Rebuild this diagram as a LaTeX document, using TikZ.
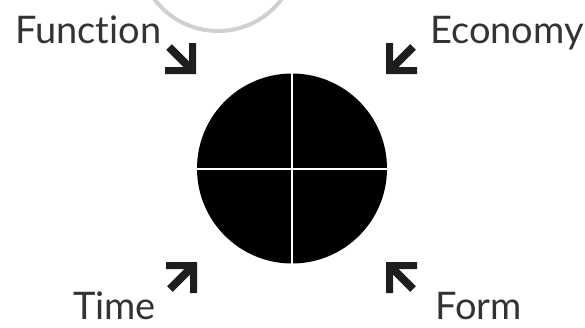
\documentclass[tikz,border=0pt]{standalone}
\usepackage{fontspec}
\setmainfont{Lato}[Ligatures=NoCommon]
\definecolor{arrowgray}{HTML}{1E1E1E}
\definecolor{textgray}{HTML}{333333}
\definecolor{ringgray}{HTML}{D0D0D0}
\begin{document}
\begin{tikzpicture}[x=1pt,y=-1pt,
  label/.style={anchor=base west, inner sep=0pt, text depth=0pt, text=textgray, font=\fontsize{38}{40}\selectfont},
  cornerarrow/.pic={
    \fill[arrowgray] (0,0) -- (-31,0) -- (-31,-7) -- (-7,-7) -- (-7,-31) -- (0,-31) -- cycle;
    \draw[arrowgray, line width=8pt] (-27,-27) -- (-7,-7);
  }]
\useasboundingbox (0,0) rectangle (585,327);
\begin{scope}
  \clip (0,0) rectangle (585,327);
  \draw[ringgray, line width=4pt] (218,-48.5) circle (79.5);
\end{scope}
\node[circle, fill=black, minimum size=190pt, inner sep=0pt] (c) at (292,168.5) {};
\draw[white, line width=2pt] (c.north) -- (c.south);
\draw[white, line width=2pt] (c.west) -- (c.east);
\pic at (196,74) {cornerarrow};
\pic[xscale=-1] at (386,74) {cornerarrow};
\pic[yscale=-1] at (197,262) {cornerarrow};
\pic[xscale=-1,yscale=-1] at (386,262) {cornerarrow};
\node[label] (function) at (15,43) {Function};
\node[label] (economy) at (430,43) {Economy};
\node[label] (time) at (73,319) {Time};
\node[label] (form) at (435,319) {Form};
\end{tikzpicture}
\end{document}
